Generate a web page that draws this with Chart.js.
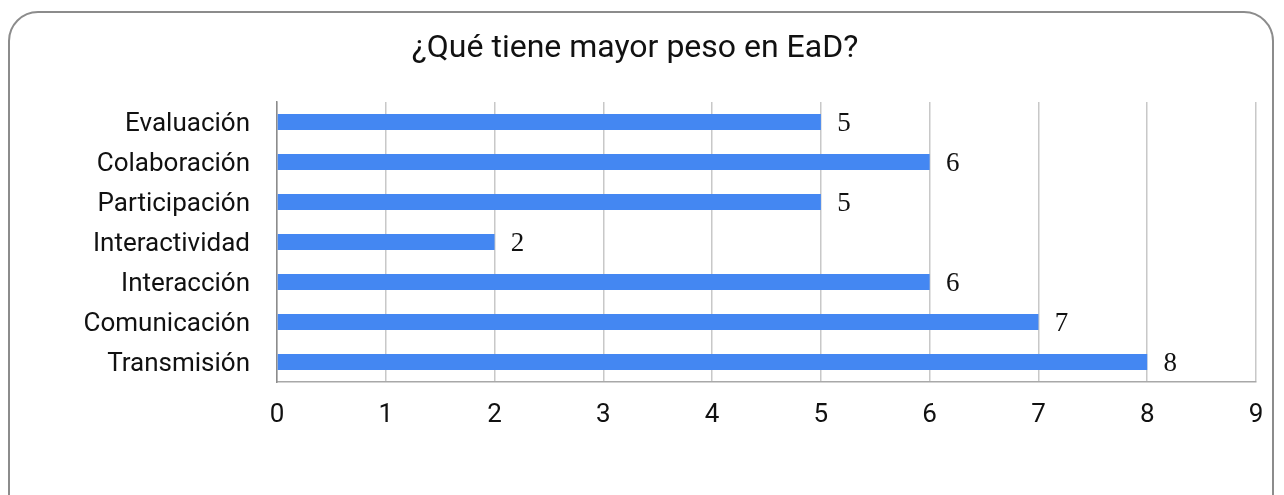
<!DOCTYPE html>
<html>
<head>
<meta charset="utf-8">
<script src="https://cdn.jsdelivr.net/npm/chart.js@4"></script>
<style>
  html, body { margin: 0; padding: 0; background: #fff; overflow: hidden; }
  #frame {
    position: absolute; left: 8px; top: 11px; width: 1266px; height: 520px;
    border: 2px solid #8c8c8c; border-radius: 30px; box-sizing: border-box;
  }
  #wrap { position: absolute; left: 0; top: 0; width: 1284px; height: 495px; }
</style>
</head>
<body>
<div id="frame"></div>
<div id="wrap"><canvas id="chart"></canvas></div>
<script>
const categories = ['Evaluación', 'Colaboración', 'Participación', 'Interactividad', 'Interacción', 'Comunicación', 'Transmisión']
const values = [5, 6, 5, 2, 6, 7, 8]
const xTicks = [0, 1, 2, 3, 4, 5, 6, 7, 8, 9]

// value labels next to each bar
const barLabels = {
    id: 'barLabels',
    afterDatasetsDraw(chart) {
        const ctx = chart.ctx
        ctx.save()
        ctx.font = '27px "Liberation Serif", serif'
        ctx.fillStyle = '#111'
        ctx.textAlign = 'center'
        ctx.textBaseline = 'middle'
        chart.getDatasetMeta(0).data.forEach((bar, i) => {
            ctx.fillText(values[i], bar.x + 23, bar.y + 2)
        })
        ctx.restore()
    }
}

new Chart(document.getElementById('chart').getContext('2d'), {
    type: 'bar',
    data: {
        labels: categories,
        datasets: [{
            data: values,
            backgroundColor: '#4487f2',
            barPercentage: 0.4,
            categoryPercentage: 1
        }]
    },
    options: {
        indexAxis: 'y',
        responsive: true,
        maintainAspectRatio: false,
        animation: false,
        layout: { padding: { left: 14, right: 28, top: 0, bottom: 0 } },
        plugins: {
            legend: { display: false },
            tooltip: { enabled: false },
            title: {
                display: true,
                text: '¿Qué tiene mayor peso en EaD?',
                color: '#111',
                font: { family: 'Roboto', size: 32, weight: 'normal' },
                padding: { top: 30, bottom: 33.6 }
            }
        },
        scales: {
            x: {
                min: 0,
                max: 9,
                afterBuildTicks: (s) => { s.ticks = xTicks.map(v => ({ value: v })) },
                afterFit: (s) => { s.height = 113 },
                grid: { color: '#c8c8c8', lineWidth: 1.5, drawTicks: false },
                border: { color: '#a8a8a8', width: 1.5 },
                ticks: {
                    color: '#111',
                    padding: 18,
                    font: { family: 'Roboto', size: 26 }
                }
            },
            y: {
                afterFit: (s) => { s.width = 263 },
                grid: { display: false, drawTicks: false },
                border: { color: '#8c8c8c', width: 1.5 },
                ticks: {
                    color: '#111',
                    padding: 27,
                    labelOffset: 2,
                    font: { family: 'Roboto', size: 26 }
                }
            }
        }
    },
    plugins: [barLabels]
})
</script>
</body>
</html>
